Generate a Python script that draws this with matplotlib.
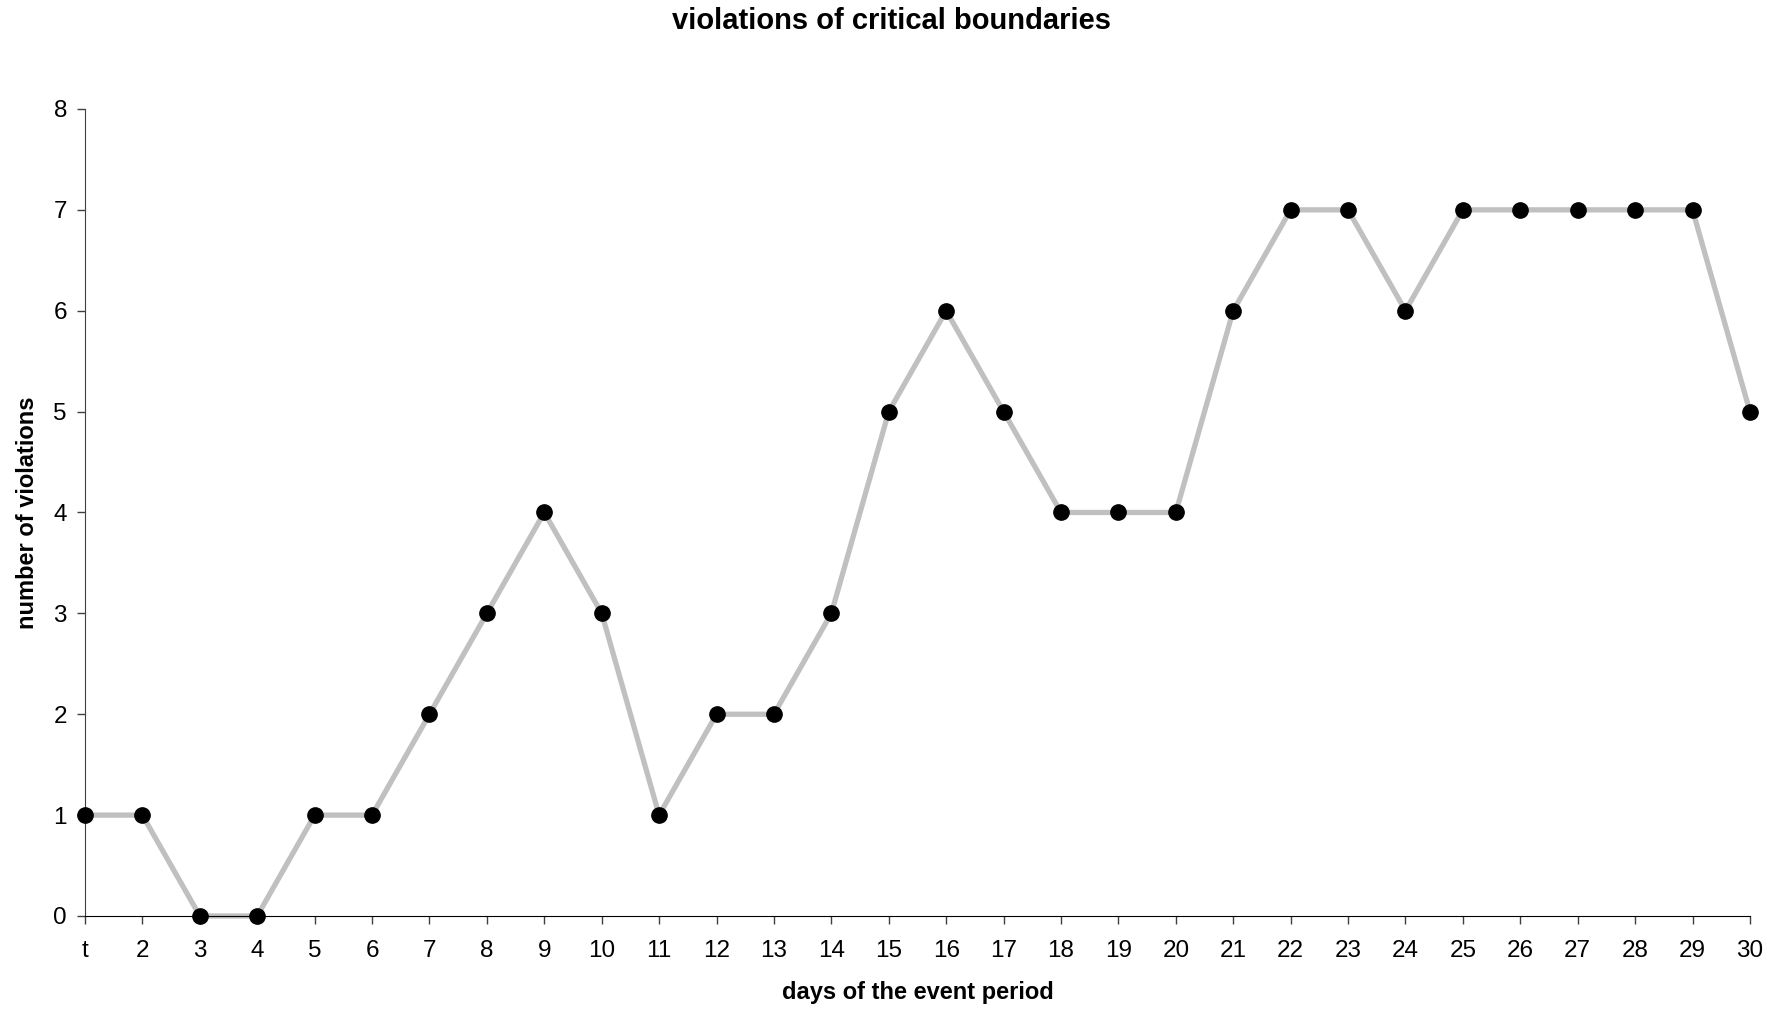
import matplotlib.pyplot as plt

days = list(range(1, 31))
day_labels = ["t"] + [str(d) for d in range(2, 31)]
violations = [1, 1, 0, 0, 1, 1, 2, 3, 4, 3, 1, 2, 2, 3, 5, 6, 5, 4, 4, 4,
              6, 7, 7, 6, 7, 7, 7, 7, 7, 5]

plt.rcParams['font.family'] = ['Liberation Sans', 'DejaVu Sans']

fig = plt.figure(figsize=(17.82, 10.09), dpi=100)
ax = fig.add_axes([0.0477, 0.0922, 0.9343, 0.7998])

ax.plot(days, violations, color="#c0c0c0", linewidth=3.8, zorder=2, clip_on=False)
ax.plot(days, violations, "o", color="black", markersize=11, zorder=3, clip_on=False)

ax.set_xlim(1, 30)
ax.set_ylim(0, 8)
ax.set_xticks(days)
ax.set_xticklabels(day_labels)
ax.set_yticks(range(0, 9))

for side in ("top", "right"):
    ax.spines[side].set_visible(False)
ax.spines["left"].set_color("#404040")
ax.spines["bottom"].set_color("black")
ax.tick_params(axis="both", labelsize=17.5, length=6, width=1, color="#404040")
ax.tick_params(axis="x", pad=11)
ax.tick_params(axis="y", pad=7)

ax.set_xlabel("days of the event period", fontsize=17, fontweight="bold", labelpad=14)
ax.set_ylabel("number of violations", fontsize=17, fontweight="bold", labelpad=10)
fig.suptitle("violations of critical boundaries", fontsize=21, fontweight="bold",
             y=0.979, va="center")

fig.savefig("out.png", dpi=100)
